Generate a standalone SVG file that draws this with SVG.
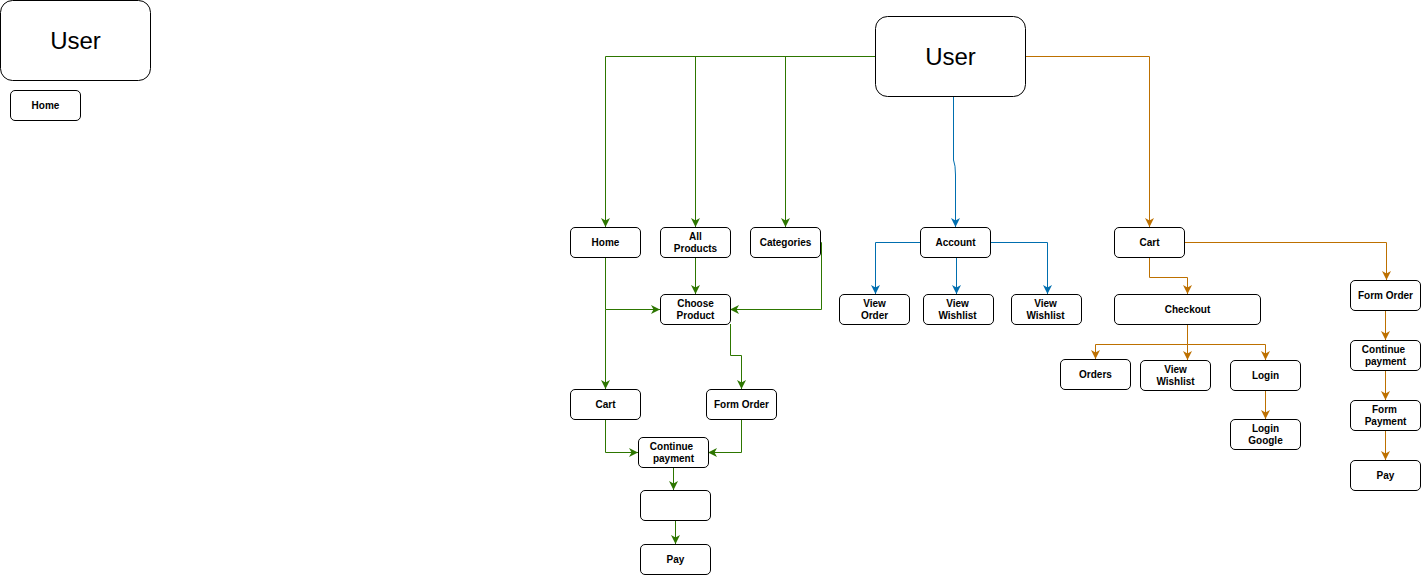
<svg xmlns="http://www.w3.org/2000/svg" width="1421" height="575" viewBox="0 0 1421 575">
<style>
.n{fill:#fff;stroke:#000;stroke-width:1}
.t{font-family:"Liberation Sans",Arial,sans-serif;font-size:10px;font-weight:bold;fill:#000;text-anchor:middle}
.big{font-family:"Liberation Sans",Arial,sans-serif;font-size:24px;fill:#000;text-anchor:middle}
.g{fill:none;stroke:#2D7600;stroke-width:1}
.b{fill:none;stroke:#006EAF;stroke-width:1}
.o{fill:none;stroke:#BD7000;stroke-width:1}
</style>
<defs>
<marker id="ag" markerUnits="userSpaceOnUse" markerWidth="10" markerHeight="9" refX="9" refY="4.5" orient="auto"><path d="M0,0 L9,4.5 L0,9 L2.5,4.5 z" fill="#2D7600"/></marker>
<marker id="ab" markerUnits="userSpaceOnUse" markerWidth="10" markerHeight="9" refX="9" refY="4.5" orient="auto"><path d="M0,0 L9,4.5 L0,9 L2.5,4.5 z" fill="#006EAF"/></marker>
<marker id="ao" markerUnits="userSpaceOnUse" markerWidth="10" markerHeight="9" refX="9" refY="4.5" orient="auto"><path d="M0,0 L9,4.5 L0,9 L2.5,4.5 z" fill="#BD7000"/></marker>
</defs>
<rect width="1421" height="575" fill="#fff"/>
<g id="connectors">
<path class="g" d="M875,56.5 H605.5 V227" marker-end="url(#ag)"/>
<path class="g" d="M695.5,56.5 V227" marker-end="url(#ag)"/>
<path class="g" d="M785.5,56.5 V227" marker-end="url(#ag)"/>
<path class="g" d="M695.5,257 V294" marker-end="url(#ag)"/>
<path class="g" d="M605.5,257 V309.5 H660" marker-end="url(#ag)"/>
<path class="g" d="M605.5,309.5 V389" marker-end="url(#ag)"/>
<path class="g" d="M820,242.5 H821.5 V309.5 H730" marker-end="url(#ag)"/>
<path class="g" d="M730.5,324 V355.5 H741.5 V389" marker-end="url(#ag)"/>
<path class="g" d="M605.5,419 V452.5 H638" marker-end="url(#ag)"/>
<path class="g" d="M741.5,419 V452.5 H708" marker-end="url(#ag)"/>
<path class="g" d="M673.5,467 V490" marker-end="url(#ag)"/>
<path class="g" d="M675.5,520 V544" marker-end="url(#ag)"/>
<path class="b" d="M953.5,96 V160 Q955.5,165 955.5,175 V227" marker-end="url(#ab)"/>
<path class="b" d="M920,242.5 H875.5 V294" marker-end="url(#ab)"/>
<path class="b" d="M956.5,257 V294" marker-end="url(#ab)"/>
<path class="b" d="M990,242.5 H1047.5 V294" marker-end="url(#ab)"/>
<path class="o" d="M1025,56.5 H1149.5 V227" marker-end="url(#ao)"/>
<path class="o" d="M1184,242.5 H1386.5 V280" marker-end="url(#ao)"/>
<path class="o" d="M1149.5,257 V277.5 H1187.5 V294" marker-end="url(#ao)"/>
<path class="o" d="M1187.5,324 V344.5 H1095.5 V359" marker-end="url(#ao)"/>
<path class="o" d="M1187.5,344.5 V360" marker-end="url(#ao)"/>
<path class="o" d="M1187.5,344.5 H1265.5 V360" marker-end="url(#ao)"/>
<path class="o" d="M1265.5,390 V419" marker-end="url(#ao)"/>
<path class="o" d="M1385.5,310 V340" marker-end="url(#ao)"/>
<path class="o" d="M1385.5,370 V400" marker-end="url(#ao)"/>
<path class="o" d="M1385.5,430 V460" marker-end="url(#ao)"/>
</g>
<g id="user-left"><rect class="n" x="0.5" y="0.5" width="150" height="80" rx="12"/><text class="big" x="75.5" y="49">User</text></g>
<g id="home-left"><rect class="n" x="10.5" y="90.5" width="70" height="30" rx="4.5"/><text class="t" x="45.5" y="109">Home</text></g>
<g id="user"><rect class="n" x="875.5" y="16.5" width="150" height="80" rx="12"/><text class="big" x="950.5" y="65">User</text></g>
<g id="home"><rect class="n" x="570.5" y="227.5" width="70" height="30" rx="4.5"/><text class="t" x="605.5" y="246">Home</text></g>
<g id="all-products"><rect class="n" x="660.5" y="227.5" width="70" height="30" rx="4.5"/><text class="t" x="695.5" y="240">All</text><text class="t" x="695.5" y="252">Products</text></g>
<g id="categories"><rect class="n" x="750.5" y="227.5" width="70" height="30" rx="4.5"/><text class="t" x="785.5" y="246">Categories</text></g>
<g id="choose-product"><rect class="n" x="660.5" y="294.5" width="70" height="30" rx="4.5"/><text class="t" x="695.5" y="307">Choose</text><text class="t" x="695.5" y="319">Product</text></g>
<g id="cart-g"><rect class="n" x="570.5" y="389.5" width="70" height="30" rx="4.5"/><text class="t" x="605.5" y="408">Cart</text></g>
<g id="form-order-g"><rect class="n" x="706.5" y="389.5" width="70" height="30" rx="4.5"/><text class="t" x="741.5" y="408">Form Order</text></g>
<g id="continue-payment-g"><rect class="n" x="638.5" y="437.5" width="70" height="30" rx="4.5"/><text class="t" x="671.5" y="450">Continue</text><text class="t" x="673.5" y="462">payment</text></g>
<g id="empty-g"><rect class="n" x="640.5" y="490.5" width="70" height="30" rx="4.5"/></g>
<g id="pay-g"><rect class="n" x="640.5" y="544.5" width="70" height="30" rx="4.5"/><text class="t" x="675.5" y="563">Pay</text></g>
<g id="account"><rect class="n" x="920.5" y="227.5" width="70" height="30" rx="4.5"/><text class="t" x="955.5" y="246">Account</text></g>
<g id="view-order"><rect class="n" x="839.5" y="294.5" width="70" height="30" rx="4.5"/><text class="t" x="874.5" y="307">View</text><text class="t" x="874.5" y="319">Order</text></g>
<g id="view-wishlist-1"><rect class="n" x="923.5" y="294.5" width="70" height="30" rx="4.5"/><text class="t" x="957.5" y="307">View</text><text class="t" x="957.5" y="319">Wishlist</text></g>
<g id="view-wishlist-2"><rect class="n" x="1011.5" y="294.5" width="70" height="30" rx="4.5"/><text class="t" x="1045.5" y="307">View</text><text class="t" x="1045.5" y="319">Wishlist</text></g>
<g id="cart-o"><rect class="n" x="1114.5" y="227.5" width="70" height="30" rx="4.5"/><text class="t" x="1149.5" y="246">Cart</text></g>
<g id="checkout"><rect class="n" x="1114.5" y="294.5" width="146" height="30" rx="4.5"/><text class="t" x="1187.5" y="313">Checkout</text></g>
<g id="orders"><rect class="n" x="1060.5" y="359.5" width="70" height="30" rx="4.5"/><text class="t" x="1095.5" y="378">Orders</text></g>
<g id="view-wishlist-3"><rect class="n" x="1140.5" y="360.5" width="70" height="30" rx="4.5"/><text class="t" x="1175.5" y="373">View</text><text class="t" x="1175.5" y="385">Wishlist</text></g>
<g id="login"><rect class="n" x="1230.5" y="360.5" width="70" height="30" rx="4.5"/><text class="t" x="1265.5" y="379">Login</text></g>
<g id="login-google"><rect class="n" x="1230.5" y="419.5" width="70" height="30" rx="4.5"/><text class="t" x="1265.5" y="432">Login</text><text class="t" x="1265.5" y="444">Google</text></g>
<g id="form-order-o"><rect class="n" x="1350.5" y="280.5" width="70" height="30" rx="4.5"/><text class="t" x="1385.5" y="299">Form Order</text></g>
<g id="continue-payment-o"><rect class="n" x="1350.5" y="340.5" width="70" height="30" rx="4.5"/><text class="t" x="1383.5" y="353">Continue</text><text class="t" x="1385.5" y="365">payment</text></g>
<g id="form-payment"><rect class="n" x="1350.5" y="400.5" width="70" height="30" rx="4.5"/><text class="t" x="1384.5" y="413">Form</text><text class="t" x="1385.5" y="425">Payment</text></g>
<g id="pay-o"><rect class="n" x="1350.5" y="460.5" width="70" height="30" rx="4.5"/><text class="t" x="1385.5" y="479">Pay</text></g>
</svg>
